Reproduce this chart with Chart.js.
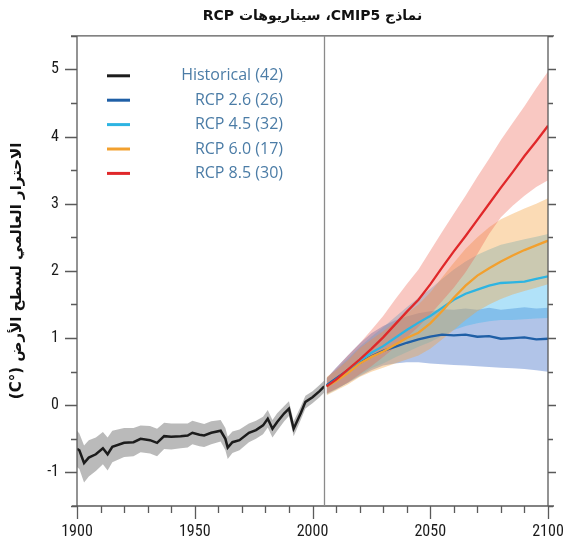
<!DOCTYPE html>
<html><head><meta charset="utf-8">
<script src="https://cdn.jsdelivr.net/npm/chart.js@4.4.0/dist/chart.umd.min.js"></script>
<style>html,body{margin:0;padding:0;background:#fff}#wrap{width:567px;height:546px;position:relative}</style>
</head><body><div id="wrap"><canvas id="c"></canvas></div>
<script>
const titleText = 'نماذج CMIP5، سيناريوهات RCP';
const yAxisTitle = 'الاحترار العالمي لسطح الأرض (°C)';
const seriesNames = ['Historical (42)', 'RCP 2.6 (26)', 'RCP 4.5 (32)', 'RCP 6.0 (17)', 'RCP 8.5 (30)'];
const xTickLabels = [1900, 1950, 2000, 2050, 2100];
const yTickLabels = [-1, 0, 1, 2, 3, 4, 5];
const scenarioStartYear = 2005;

const histYears = [1900,1901,1903,1905,1908,1911,1913,1915,1920,1924,1927,1931,1934,1937,1940,1944,1947,1949,1952,1954,1957,1961,1963,1964,1966,1969,1973,1976,1979,1981,1983,1985,1988,1990,1992,1995,1997,2000,2003,2005];
const histMean = [-0.65,-0.67,-0.86,-0.78,-0.73,-0.64,-0.73,-0.62,-0.56,-0.55,-0.50,-0.52,-0.56,-0.46,-0.47,-0.46,-0.45,-0.41,-0.44,-0.45,-0.41,-0.38,-0.50,-0.63,-0.55,-0.52,-0.41,-0.37,-0.30,-0.20,-0.35,-0.25,-0.12,-0.05,-0.35,-0.12,0.05,0.12,0.21,0.28];
const histHigh = [-0.38,-0.42,-0.60,-0.52,-0.48,-0.40,-0.48,-0.38,-0.34,-0.34,-0.30,-0.31,-0.35,-0.26,-0.27,-0.27,-0.27,-0.23,-0.26,-0.28,-0.24,-0.22,-0.34,-0.47,-0.39,-0.36,-0.27,-0.23,-0.17,-0.07,-0.22,-0.12,-0.01,0.06,-0.24,-0.02,0.14,0.21,0.30,0.37];
const histLow = [-0.92,-0.95,-1.15,-1.06,-0.98,-0.88,-0.97,-0.85,-0.77,-0.76,-0.70,-0.72,-0.76,-0.65,-0.66,-0.64,-0.63,-0.58,-0.61,-0.62,-0.58,-0.54,-0.67,-0.80,-0.71,-0.67,-0.55,-0.50,-0.43,-0.33,-0.48,-0.38,-0.24,-0.16,-0.46,-0.22,-0.05,0.03,0.12,0.19];

const futYears = [2006,2010,2015,2020,2025,2030,2035,2040,2045,2050,2055,2060,2065,2070,2075,2080,2085,2090,2095,2100];
const rcp26Mean = [0.30,0.40,0.52,0.63,0.73,0.81,0.87,0.93,0.98,1.02,1.05,1.04,1.05,1.02,1.03,0.99,1.00,1.01,0.98,0.99];
const rcp26High = [0.40,0.56,0.74,0.92,1.07,1.18,1.26,1.32,1.37,1.40,1.43,1.42,1.44,1.42,1.45,1.42,1.44,1.46,1.44,1.45];
const rcp26Low  = [0.18,0.24,0.33,0.43,0.52,0.59,0.62,0.64,0.64,0.62,0.61,0.60,0.59,0.58,0.57,0.56,0.55,0.54,0.52,0.50];
const rcp45Mean = [0.28,0.38,0.52,0.66,0.78,0.88,1.00,1.12,1.23,1.33,1.45,1.57,1.66,1.72,1.78,1.82,1.83,1.84,1.88,1.92];
const rcp45High = [0.40,0.53,0.70,0.87,1.02,1.16,1.31,1.46,1.60,1.73,1.88,2.02,2.14,2.24,2.32,2.39,2.43,2.47,2.51,2.55];
const rcp45Low  = [0.16,0.23,0.34,0.45,0.55,0.62,0.71,0.79,0.87,0.94,1.03,1.12,1.18,1.22,1.25,1.27,1.27,1.28,1.29,1.30];
const rcp60Mean = [0.28,0.36,0.48,0.62,0.72,0.80,0.90,1.00,1.08,1.22,1.40,1.60,1.78,1.93,2.04,2.14,2.23,2.31,2.38,2.45];
const rcp60High = [0.42,0.52,0.67,0.85,0.98,1.10,1.23,1.37,1.50,1.68,1.90,2.12,2.33,2.50,2.65,2.77,2.85,2.93,3.00,3.08];
const rcp60Low  = [0.15,0.22,0.31,0.42,0.50,0.56,0.62,0.68,0.74,0.84,0.98,1.12,1.27,1.40,1.50,1.58,1.65,1.70,1.75,1.80];
const rcp85Mean = [0.28,0.38,0.53,0.68,0.84,1.01,1.20,1.39,1.57,1.80,2.05,2.29,2.52,2.76,3.00,3.24,3.47,3.71,3.93,4.16];
const rcp85High = [0.40,0.55,0.74,0.92,1.12,1.33,1.57,1.80,2.02,2.30,2.58,2.85,3.12,3.40,3.67,3.95,4.20,4.45,4.72,4.97];
const rcp85Low  = [0.17,0.24,0.34,0.46,0.58,0.72,0.86,1.01,1.17,1.35,1.55,1.75,1.98,2.25,2.55,2.80,2.97,3.12,3.25,3.35];

const lineColors = ['#1c1c1c', '#1f5fa6', '#2db4e2', '#f2a02e', '#e0282a'];
const bandColors = ['rgba(140,140,140,0.6)', 'rgba(70,115,200,0.42)', 'rgba(70,185,240,0.42)', 'rgba(245,160,60,0.38)', 'rgba(238,95,75,0.34)'];

const pts = (xs, ys) => xs.map((x, i) => ({x: x, y: ys[i]}));
const RLE = s => '\u202B' + s + '\u202C';

function lineDs(label, xs, ys, color, w) {
  return {label, data: pts(xs, ys), borderColor: color, borderWidth: w, pointRadius: 0, fill: false, tension: 0, order: 0};
}
function bandDs(label, xs, ys, color, fillTo) {
  return {label, data: pts(xs, ys), borderWidth: 0, borderColor: 'rgba(0,0,0,0)', backgroundColor: color, pointRadius: 0, fill: fillTo, tension: 0, order: 1};
}

const datasets = [
  lineDs(seriesNames[4], futYears, rcp85Mean, lineColors[4], 2.3),
  lineDs(seriesNames[3], futYears, rcp60Mean, lineColors[3], 2.3),
  lineDs(seriesNames[2], futYears, rcp45Mean, lineColors[2], 2.3),
  lineDs(seriesNames[1], futYears, rcp26Mean, lineColors[1], 2.3),
  lineDs(seriesNames[0], histYears, histMean, lineColors[0], 2.5),
  bandDs('RCP 8.5 high', futYears, rcp85High, bandColors[4], '+1'),
  bandDs('RCP 8.5 low', futYears, rcp85Low, bandColors[4], false),
  bandDs('RCP 6.0 high', futYears, rcp60High, bandColors[3], '+1'),
  bandDs('RCP 6.0 low', futYears, rcp60Low, bandColors[3], false),
  bandDs('RCP 4.5 high', futYears, rcp45High, bandColors[2], '+1'),
  bandDs('RCP 4.5 low', futYears, rcp45Low, bandColors[2], false),
  bandDs('RCP 2.6 high', futYears, rcp26High, bandColors[1], '+1'),
  bandDs('RCP 2.6 low', futYears, rcp26Low, bandColors[1], false),
  bandDs('Historical high', histYears, histHigh, bandColors[0], '+1'),
  bandDs('Historical low', histYears, histLow, bandColors[0], false)
];

const axisColor = '#5a5a5a';
const framePlugin = {
  id: 'frame',
  afterDatasetsDraw(chart) {
    const ctx = chart.ctx, a = chart.chartArea, xs = chart.scales.x, ys = chart.scales.y;
    const L = a.left, R = a.right, T = a.top, B = a.bottom;
    ctx.save();
    ctx.strokeStyle = axisColor;
    ctx.lineWidth = 1.3;
    ctx.beginPath();
    ctx.moveTo(L - 6, T); ctx.lineTo(R + 6, T);
    ctx.moveTo(L - 5, B); ctx.lineTo(R + 6, B);
    ctx.moveTo(L, T); ctx.lineTo(L, B);
    ctx.moveTo(R, T); ctx.lineTo(R, B);
    for (let v = 1900; v <= 2100; v += 10) {
      const px = Math.round(xs.getPixelForValue(v)) + 0.5;
      const len = (v % 50 === 0) ? 13 : 7;
      ctx.moveTo(px, B); ctx.lineTo(px, B + len);
    }
    for (let v = -1.5; v <= 5.5; v += 0.5) {
      const py = Math.round(ys.getPixelForValue(v)) + 0.5;
      const major = Number.isInteger(v);
      ctx.moveTo(L, py); ctx.lineTo(L - (major ? 12 : 6), py);
      ctx.moveTo(R, py); ctx.lineTo(R + (major ? 8 : 5), py);
    }
    ctx.stroke();
    ctx.strokeStyle = '#8a8a8a';
    ctx.lineWidth = 1.3;
    ctx.beginPath();
    const sx = Math.round(xs.getPixelForValue(scenarioStartYear)) + 0.5;
    ctx.moveTo(sx, T); ctx.lineTo(sx, B);
    ctx.stroke();
    ctx.restore();
  }
};

const legendPlugin = {
  id: 'sideLegend',
  afterDraw(chart) {
    const ctx = chart.ctx, a = chart.chartArea;
    ctx.save();
    ctx.direction = 'ltr';
    ctx.font = '16px "Open Sans", sans-serif';
    ctx.textAlign = 'right';
    ctx.textBaseline = 'middle';
    for (let i = 0; i < seriesNames.length; i++) {
      const y = a.top + 40 + i * 24.4;
      ctx.strokeStyle = lineColors[i];
      ctx.lineWidth = 3;
      ctx.beginPath();
      ctx.moveTo(a.left + 30, y); ctx.lineTo(a.left + 53, y);
      ctx.stroke();
      ctx.fillStyle = '#4b7ca6';
      ctx.fillText(seriesNames[i], a.left + 206, y);
    }
    ctx.restore();
  }
};

const tickFont = {family: '"Liberation Sans Narrow", "Roboto Condensed", Roboto, sans-serif', size: 16};

new Chart(document.getElementById('c'), {
  type: 'line',
  data: {datasets},
  options: {
    responsive: true,
    maintainAspectRatio: false,
    animation: false,
    layout: {padding: {left: 0, right: 19, top: 0, bottom: 0}},
    plugins: {
      legend: {display: false},
      tooltip: {enabled: false},
      filler: {drawTime: 'beforeDatasetsDraw'},
      title: {
        display: true, fullSize: false,
        text: RLE(titleText),
        color: '#111',
        font: {family: '"DejaVu Sans", sans-serif', size: 14, weight: 'bold'},
        padding: {top: 8, bottom: 11}
      }
    },
    scales: {
      x: {
        type: 'linear', min: 1900, max: 2100,
        grid: {display: false, drawTicks: false},
        border: {display: false},
        ticks: {stepSize: 10, autoSkip: false, maxRotation: 0, padding: 16, color: '#1a1a1a', font: tickFont,
          callback: v => xTickLabels.includes(v) ? String(v) : ''},
        afterFit: s => { s.height = 40; s.paddingLeft = 0; s.paddingRight = 0; }
      },
      y: {
        type: 'linear', min: -1.5, max: 5.5,
        grid: {display: false, drawTicks: false},
        border: {display: false},
        ticks: {stepSize: 0.5, autoSkip: false, padding: 18, color: '#1a1a1a', font: tickFont,
          callback: v => yTickLabels.includes(v) ? String(v) : ''},
        title: {display: true, text: RLE(yAxisTitle), color: '#111',
          font: {family: '"DejaVu Sans", sans-serif', size: 15, weight: 'bold'}, padding: {top: 8, bottom: 0}},
        afterFit: s => { s.width = 77; s.paddingTop = 0; s.paddingBottom = 0; }
      }
    }
  },
  plugins: [framePlugin, legendPlugin]
});
</script>
</body></html>
